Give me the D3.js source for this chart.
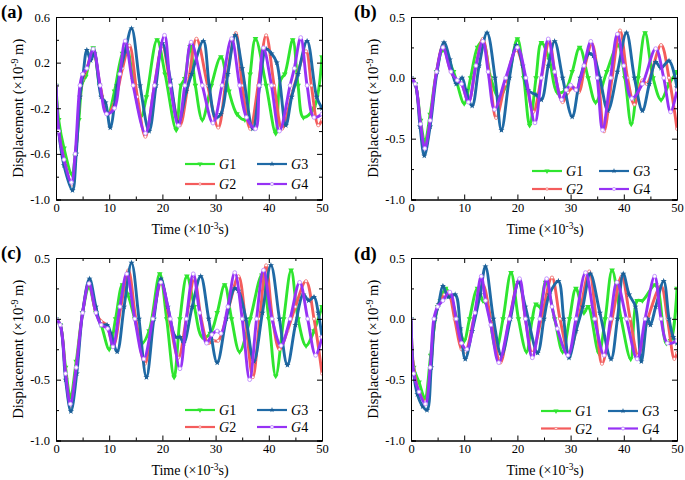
<!DOCTYPE html>
<html>
<head>
<meta charset="utf-8">
<script src="https://cdn.jsdelivr.net/npm/d3@7"></script>
<style>
  html, body { margin: 0; padding: 0; background: #fff; }
  svg { display: block; font-family: "Liberation Serif", "Times New Roman", serif; }
</style>
</head>
<body>
<svg id="chart" width="685" height="480"></svg>
<script>
// ---------------- DATA (time in 10^-3 s, displacement in 10^-9 m) ----------------
const seriesNames = ["G1", "G2", "G3", "G4"];
const panelLabels = ["(a)", "(b)", "(c)", "(d)"];
const xTicks = [0, 10, 20, 30, 40, 50];
const xMinorTicks = [5, 15, 25, 35, 45];
const yTicksA = [0.6, 0.2, -0.2, -0.6, -1.0];
const yMinorTicksA = [0.4, 0.0, -0.4, -0.8];
const yTicksB = [0.5, 0.0, -0.5, -1.0];
const yMinorTicksB = [0.25, -0.25, -0.75];

const a_G1 = [[0,0],[0.5,-0.3],[1.5,-0.55],[3,-0.78],[3.6,-0.62],[4.3,-0.3],[5,0.03],[5.6,0.08],[7,0.33],[8.2,0.0],[9.8,-0.25],[11,-0.05],[12.5,0.28],[13.3,0.32],[14.5,0.05],[16,-0.27],[17,-0.1],[19,0.4],[20.5,0.1],[22.6,-0.39],[23.5,0.0],[24.2,0.06],[25.2,0.34],[26.2,0.0],[27.5,-0.3],[29.2,0.0],[31,0.25],[32.5,-0.05],[34,-0.25],[35.5,-0.3],[36.5,0.1],[37.5,0.41],[39.5,0.0],[41.3,-0.42],[42.2,0.05],[43,0.1],[44.5,0.4],[45.5,0.0],[46.5,-0.28],[48.5,-0.2],[50,0.25]];
const a_G2 = [[0,0],[0.5,-0.4],[1.5,-0.65],[3,-0.87],[3.7,-0.6],[4.5,-0.1],[5,0.05],[5.8,0.15],[7,0.3],[8.3,0.0],[9.7,-0.25],[11,-0.15],[12.5,0.15],[13.8,0.35],[15.3,-0.1],[16.8,-0.45],[18.5,0.0],[20,0.35],[21.5,0.0],[23.3,-0.35],[24.8,0.0],[26.4,0.41],[28.5,0.0],[30.5,-0.37],[32,0.05],[33.8,0.46],[35,0.0],[36.5,-0.38],[38,0.0],[39.5,0.44],[41,0.0],[42.5,-0.38],[44.5,-0.05],[47,0.3],[48,0.0],[49.3,-0.35],[50,-0.3]];
const a_G3 = [[0,0],[0.5,-0.4],[1.5,-0.7],[3.1,-0.92],[3.8,-0.6],[4.5,-0.1],[5.1,0.1],[5.8,0.31],[6.5,0.22],[7.2,0.28],[8.5,-0.1],[9.3,-0.15],[10.2,-0.37],[11.5,0.0],[13,0.3],[14.2,0.5],[15.8,0.0],[17.5,-0.4],[18.8,0.0],[20,0.37],[21.5,0.05],[23,-0.33],[24.5,-0.05],[25.5,0.1],[27.7,0.39],[28.8,0.0],[30,-0.28],[31,-0.25],[32.3,0.1],[33.7,0.44],[35,0.15],[37,-0.38],[38.3,0.0],[39.5,0.32],[40.5,0.28],[41.5,0.2],[43.2,-0.35],[44.3,-0.1],[45.5,0.1],[47.2,0.39],[49,-0.1],[50,-0.2]];
const a_G4 = [[0,0],[0.5,-0.4],[1.5,-0.65],[2.9,-0.85],[3.6,-0.6],[4.5,0.0],[5,0.1],[5.8,0.15],[7,0.32],[8.3,0.0],[9.5,-0.25],[11,-0.2],[12,0.1],[13,0.39],[14.5,0.0],[16.8,-0.42],[18.5,0.0],[20.4,0.44],[21.5,0.0],[23,-0.35],[24.2,0.0],[25.4,0.38],[27.5,0.0],[29.5,-0.33],[31.2,0.0],[33,0.41],[34.5,0.0],[35.8,-0.28],[37.5,-0.38],[38.2,0.0],[39,0.33],[40.5,0.0],[42,-0.4],[44,0.0],[44.8,0.15],[46,0.42],[47.2,0.0],[48.5,-0.28],[50,-0.25]];

const b_G1 = [[0,0],[0.8,-0.05],[1.8,-0.35],[2.6,-0.53],[3.6,-0.3],[4.8,0.05],[6,0.23],[8,0.05],[10,-0.21],[11.2,0.0],[12.5,0.25],[13.5,0.3],[15,0.0],[16.5,-0.16],[18,-0.05],[20,0.32],[21.2,0.0],[22.3,-0.39],[23.5,0.0],[24.5,0.29],[26,0.15],[27.5,-0.12],[29,-0.1],[30.3,0.05],[31.7,0.25],[33.3,0.0],[34.7,-0.2],[36.8,0.05],[38.9,0.27],[40.2,0.0],[41.4,-0.38],[42.7,0.0],[44,0.37],[45.5,0.0],[47,-0.18],[48.5,-0.05],[50,0.05]];
const b_G2 = [[0,0],[0.8,-0.05],[1.8,-0.4],[2.6,-0.6],[3.6,-0.35],[4.8,0.05],[6,0.26],[7.5,0.05],[8.5,-0.02],[9.5,-0.05],[10.8,-0.2],[12.2,0.1],[13.5,0.32],[14.8,0.0],[16,-0.33],[17.7,-0.05],[19.8,0.23],[21.5,0.0],[23,-0.28],[24.5,0.0],[26,0.3],[27.2,0.0],[28.5,-0.2],[29.5,-0.12],[30.5,-0.08],[31.5,-0.12],[32.7,0.1],[34,0.28],[35.2,0.0],[36.3,-0.44],[37.8,0.0],[39.3,0.39],[40.7,0.0],[42,-0.22],[43.5,-0.02],[44.3,-0.05],[47,0.27],[48.5,0.0],[50,-0.42]];
const b_G3 = [[0,0],[0.8,-0.05],[1.7,-0.4],[2.5,-0.64],[3.6,-0.4],[4.9,0.05],[6.2,0.29],[7.3,0.15],[8.5,-0.05],[9.6,0.0],[10.3,-0.1],[11.5,-0.23],[12.8,0.1],[14.3,0.37],[15.8,0.0],[17,-0.43],[18.5,0.0],[19.8,0.27],[21,0.1],[22,-0.1],[23.5,-0.14],[24.5,-0.18],[25.8,0.1],[27,0.3],[28.5,0.0],[30.3,-0.32],[31.8,0.0],[33.5,0.2],[34.3,0.18],[35.5,0.0],[37,-0.27],[38.8,0.05],[40.5,0.37],[42,0.0],[43.5,-0.27],[44.8,-0.05],[46,0.13],[47,0.08],[48.5,0.14],[50,-0.08]];
const b_G4 = [[0,0],[0.8,-0.05],[1.8,-0.38],[2.6,-0.58],[3.6,-0.35],[4.8,0.05],[6,0.25],[7.5,0.05],[8.7,-0.02],[9.5,-0.05],[10.8,-0.2],[12.2,0.1],[13.5,0.3],[14.5,0.05],[15.7,-0.26],[17.8,0.0],[20,0.25],[21.6,0.0],[23.3,-0.37],[24.5,0.0],[25.8,0.32],[27,0.05],[28.3,-0.18],[29.2,-0.1],[30,-0.06],[31,-0.1],[32.5,0.1],[33.8,0.3],[35,0.0],[36,-0.43],[37.5,0.0],[38.8,0.36],[40,0.1],[41.5,-0.17],[43.5,-0.05],[46,0.24],[47.5,0.0],[48.8,-0.28],[50,-0.1]];

const c_G1 = [[0,0],[0.8,-0.05],[1.8,-0.4],[2.7,-0.64],[3.8,-0.35],[5,0.05],[6.2,0.26],[7.5,0.05],[8.5,-0.05],[10,-0.25],[11.2,0.0],[12.5,0.28],[13.5,0.2],[14.8,0.0],[16.2,-0.2],[17.5,-0.1],[19.5,0.37],[20.8,0.0],[22.2,-0.48],[23.3,0.0],[24.6,0.35],[26,0.1],[27.5,-0.15],[29,-0.12],[30.3,0.05],[31.7,0.28],[33,0.0],[34.5,-0.27],[36.5,0.0],[38.7,0.36],[40,0.0],[41.3,-0.47],[42.8,0.0],[44.2,0.4],[45.5,0.0],[47,-0.22],[48.5,-0.1],[50,0.1]];
const c_G2 = [[0,0],[0.8,-0.05],[1.8,-0.45],[2.7,-0.72],[3.8,-0.4],[5,0.05],[6.2,0.3],[7.5,0.05],[8.5,-0.02],[9.5,-0.05],[10.8,-0.22],[12.2,0.1],[13.6,0.4],[15,0.0],[16.7,-0.37],[18.2,0.0],[19.8,0.3],[21.3,0.0],[23,-0.32],[24.5,0.0],[26,0.33],[27.3,0.0],[28.6,-0.2],[29.5,-0.18],[30.5,-0.18],[32.5,0.1],[34.3,0.35],[35.6,0.0],[37,-0.48],[38.3,0.0],[39.5,0.44],[40.7,0.0],[42,-0.25],[43.5,-0.1],[45,0.1],[47,0.31],[48.5,0.0],[50,-0.45]];
const c_G3 = [[0,0],[0.8,-0.05],[1.8,-0.5],[2.8,-0.76],[3.9,-0.45],[5,0.05],[6.3,0.33],[7.5,0.1],[8.5,-0.05],[9.6,-0.05],[10.3,-0.12],[11.5,-0.27],[12.8,0.1],[14.2,0.46],[15.6,0.0],[17,-0.48],[18.4,0.0],[19.7,0.33],[21,0.1],[22.5,-0.15],[23.3,-0.15],[24,-0.2],[25.6,0.1],[27.2,0.35],[28.7,0.0],[30.3,-0.36],[32,0.0],[33.6,0.25],[34.3,0.23],[35.7,0.0],[37.2,-0.35],[38.8,0.05],[40.4,0.44],[42,0.0],[43.5,-0.38],[45,-0.05],[46.5,0.2],[47.5,0.15],[48.5,0.18],[49.3,0.05],[50,-0.15]];
const c_G4 = [[0,0],[0.8,-0.05],[1.8,-0.45],[2.7,-0.7],[3.8,-0.4],[5,0.05],[6.2,0.29],[7.5,0.05],[8.5,-0.05],[9.7,-0.08],[10.7,-0.23],[12,0.1],[13.3,0.37],[14.8,0.0],[16.5,-0.33],[18.2,0.0],[19.7,0.3],[21.5,0.0],[23.3,-0.41],[24.5,0.0],[25.8,0.37],[27,0.05],[28.3,-0.2],[29.3,-0.13],[30.3,-0.1],[31,-0.12],[32.3,0.1],[33.6,0.38],[35,0.0],[36.4,-0.5],[37.7,0.0],[39,0.4],[40.6,0.0],[42.3,-0.22],[44,0.0],[45.8,0.3],[47.3,0.0],[48.8,-0.3],[50,-0.15]];

const d_G1 = [[0,0],[0.5,-0.4],[1.5,-0.52],[2.6,-0.65],[3.7,-0.3],[5,0.1],[5.5,0.15],[6.5,0.25],[7.5,0.18],[9.2,-0.1],[10,-0.18],[11,0.0],[12.5,0.25],[13.5,0.15],[14.2,0.12],[16,-0.25],[17.3,0.0],[18.8,0.38],[20.2,0.0],[21.7,-0.27],[22.8,0.0],[23.5,0.12],[24.2,0.1],[25.3,0.3],[27,0.0],[28.5,-0.27],[29.8,0.0],[31,0.25],[32.5,0.05],[33.3,0.1],[35.3,-0.28],[36.5,0.0],[37.8,0.4],[39.5,0.0],[41.3,-0.33],[42.5,0.15],[43.5,0.15],[46,0.28],[48,-0.2],[48.8,-0.18],[50,0.25]];
const d_G2 = [[0,0],[0.5,-0.4],[1.5,-0.6],[2.7,-0.68],[3.7,-0.4],[4.5,0.0],[5.2,0.12],[6.3,0.2],[7,0.22],[8.2,0.0],[9.5,-0.25],[10.2,-0.27],[11.8,0.0],[13.5,0.28],[15,0.0],[16.8,-0.36],[18.5,0.0],[20.3,0.32],[21.5,0.0],[22.8,-0.28],[24.5,0.0],[26.5,0.34],[28,0.0],[29.7,-0.28],[31.5,0.0],[33.5,0.39],[34.8,0.0],[35.9,-0.37],[37.8,0.0],[39.6,0.35],[41.2,0.0],[42.7,-0.3],[44.5,0.0],[47,0.27],[48.2,0.0],[49.5,-0.33],[50,-0.28]];
const d_G3 = [[0,0],[0.5,-0.45],[1.2,-0.62],[2.2,-0.72],[3,-0.75],[3.8,-0.4],[4.5,0.0],[5.2,0.12],[6,0.27],[7,0.18],[8.3,0.2],[9.3,-0.08],[10.2,-0.33],[11.5,-0.1],[13,0.2],[14,0.43],[15.5,0.0],[17,-0.3],[18.7,0.0],[20.2,0.3],[21.5,0.1],[23.8,-0.28],[25,0.0],[26,0.2],[27.7,0.31],[28.7,0.0],[29.7,-0.32],[31,-0.1],[32.3,0.1],[33.7,0.37],[35.5,0.05],[37.6,-0.33],[38.8,0.0],[39.9,0.37],[41,0.2],[42.2,0.1],[43.3,-0.35],[44.5,0.0],[45,-0.05],[46,0.1],[47.5,0.31],[48.5,0.0],[49.3,-0.15],[50,-0.2]];
const d_G4 = [[0,0],[0.5,-0.45],[1.5,-0.6],[2.7,-0.7],[3.6,-0.4],[4.3,0.0],[5,0.1],[6,0.15],[7.3,0.22],[8.5,0.0],[9.5,-0.2],[10.5,-0.25],[12,0.05],[13.2,0.35],[14,0.15],[15,-0.05],[16.5,-0.36],[18.5,0.0],[20.4,0.33],[21.5,0.0],[22.8,-0.32],[24.2,0.0],[25.5,0.33],[26.5,0.1],[27.5,-0.08],[29.5,-0.3],[31,0.0],[32.8,0.38],[34.5,0.0],[36.3,-0.3],[37.5,0.0],[38.7,0.3],[40.5,0.0],[42.5,-0.33],[44,0.0],[45.8,0.35],[47,0.0],[48.2,-0.2],[50,-0.18]];

// ---------------- LAYOUT / STYLE ----------------
const colors = { G1: "#2fe52f", G2: "#f45c5c", G3: "#1f6aa6", G4: "#9632f5" };
const panels = [
  { label: panelLabels[0], left: 56, top: 17, yDomain: [-1.0, 0.6], yTicks: yTicksA, yMinor: yMinorTicksA,
    data: [a_G1, a_G2, a_G3, a_G4], lab: [1, 18], leg: { x: 129, y: 147, dy: 20, dx: 72 } },
  { label: panelLabels[1], left: 411, top: 17, yDomain: [-1.0, 0.5], yTicks: yTicksB, yMinor: yMinorTicksB,
    data: [b_G1, b_G2, b_G3, b_G4], lab: [354, 18], leg: { x: 121, y: 154, dy: 18, dx: 67 } },
  { label: panelLabels[2], left: 56, top: 258, yDomain: [-1.0, 0.5], yTicks: yTicksB, yMinor: yMinorTicksB,
    data: [c_G1, c_G2, c_G3, c_G4], lab: [1, 259], leg: { x: 129, y: 152, dy: 17, dx: 72 } },
  { label: panelLabels[3], left: 411, top: 258, yDomain: [-1.0, 0.5], yTicks: yTicksB, yMinor: yMinorTicksB,
    data: [d_G1, d_G2, d_G3, d_G4], lab: [354, 260], leg: { x: 130, y: 153, dy: 17.5, dx: 67 } }
];
const W = 266, H = 182.5;

const svg = d3.select("#chart");

function marker(sel, name, cx, cy, small) {
  const k = small ? 0.8 : 1;
  if (name === "G1") {
    sel.append("path").attr("d", d3.symbol(d3.symbolTriangle, 14 * k)())
      .attr("transform", `translate(${cx},${cy}) rotate(180)`)
      .attr("fill", colors.G1).attr("stroke", "none");
  } else if (name === "G2") {
    sel.append("circle").attr("cx", cx).attr("cy", cy).attr("r", 1.5 * k)
      .attr("fill", "#fff").attr("stroke", "#f07a7a").attr("stroke-width", 0.8);
  } else if (name === "G3") {
    sel.append("path").attr("d", d3.symbol(d3.symbolStar, 12 * k)())
      .attr("transform", `translate(${cx},${cy})`)
      .attr("fill", "#1a5e96").attr("stroke", "none");
  } else {
    sel.append("circle").attr("cx", cx).attr("cy", cy).attr("r", 1.9 * k)
      .attr("fill", "#fff").attr("stroke", "#c08cff").attr("stroke-width", 0.9);
  }
}

panels.forEach(p => {
  const g = svg.append("g").attr("transform", `translate(${p.left},${p.top})`);
  const x = d3.scaleLinear().domain([0, 50]).range([0, W]);
  const y = d3.scaleLinear().domain(p.yDomain).range([H, 0]);

  const clipId = "clip" + p.label.replace(/\W/g, "");
  g.append("clipPath").attr("id", clipId).append("rect")
    .attr("x", 0).attr("y", 0).attr("width", W).attr("height", H);

  const line = d3.line().x(d => x(d[0])).y(d => y(d[1])).curve(d3.curveCatmullRom.alpha(0.5));
  const plot = g.append("g").attr("clip-path", `url(#${clipId})`);
  p.data.forEach((s, i) => {
    const name = seriesNames[i];
    plot.append("path").datum(s).attr("d", line)
      .attr("fill", "none").attr("stroke", colors[name]).attr("stroke-width", 2.9)
      .attr("stroke-linejoin", "round");
    const mg = plot.append("g");
    s.forEach(d => marker(mg, name, x(d[0]), y(d[1]), false));
  });

  const fmt = d => d.toFixed(1);
  g.append("g").attr("transform", `translate(0,${H})`)
    .call(d3.axisBottom(x).tickValues(xTicks).tickSize(-5).tickPadding(4).tickFormat(d3.format("d")));
  g.append("g").attr("transform", `translate(0,${H})`)
    .call(d3.axisBottom(x).tickValues(xMinorTicks).tickSize(-3).tickFormat(""));
  g.append("g").call(d3.axisTop(x).tickValues(xTicks).tickSize(-5).tickFormat(""));
  g.append("g").call(d3.axisTop(x).tickValues(xMinorTicks).tickSize(-3).tickFormat(""));
  g.append("g").call(d3.axisLeft(y).tickValues(p.yTicks).tickSize(-5).tickPadding(6).tickFormat(fmt));
  g.append("g").call(d3.axisLeft(y).tickValues(p.yMinor).tickSize(-3).tickFormat(""));
  g.append("g").attr("transform", `translate(${W},0)`)
    .call(d3.axisRight(y).tickValues(p.yTicks).tickSize(-5).tickFormat(""));
  g.append("g").attr("transform", `translate(${W},0)`)
    .call(d3.axisRight(y).tickValues(p.yMinor).tickSize(-3).tickFormat(""));

  g.selectAll(".domain").attr("stroke", "#000").attr("stroke-width", 1);
  g.selectAll(".tick line").attr("stroke", "#000").attr("stroke-width", 1);
  g.selectAll(".tick text").attr("font-family", "Liberation Serif, serif")
    .attr("font-size", 12.5).attr("fill", "#000");

  const yt = g.append("text")
    .attr("transform", `translate(-33,${H / 2}) rotate(-90)`)
    .attr("text-anchor", "middle").attr("font-size", 14.5).attr("fill", "#000");
  yt.append("tspan").text("Displacement (\u00d710");
  yt.append("tspan").attr("baseline-shift", "super").attr("font-size", 10).text("-9");
  yt.append("tspan").text(" m)");

  const xt = g.append("text")
    .attr("x", W / 2 + 1).attr("y", H + 34)
    .attr("text-anchor", "middle").attr("font-size", 14).attr("fill", "#000");
  xt.append("tspan").text("Time (\u00d710");
  xt.append("tspan").attr("baseline-shift", "super").attr("font-size", 9.5).text("-3");
  xt.append("tspan").text("s)");

  const L = p.leg;
  seriesNames.forEach((name, i) => {
    const col = i < 2 ? 0 : 1, row = i % 2;
    const lx = L.x + col * L.dx, ly = L.y + row * L.dy;
    const lg = g.append("g");
    lg.append("line").attr("x1", lx).attr("x2", lx + 30).attr("y1", ly).attr("y2", ly)
      .attr("stroke", colors[name]).attr("stroke-width", 2.2);
    marker(lg, name, lx + 15, ly, true);
    const t = lg.append("text").attr("x", lx + 34).attr("y", ly + 5)
      .attr("font-size", 14).attr("fill", "#000");
    t.append("tspan").attr("font-style", "italic").text(name[0]);
    t.append("tspan").text(name.slice(1));
  });

  svg.append("text").attr("x", p.lab[0]).attr("y", p.lab[1])
    .attr("font-size", 18.5).attr("font-weight", "bold").attr("fill", "#000").text(p.label);
});
</script>
</body>
</html>
